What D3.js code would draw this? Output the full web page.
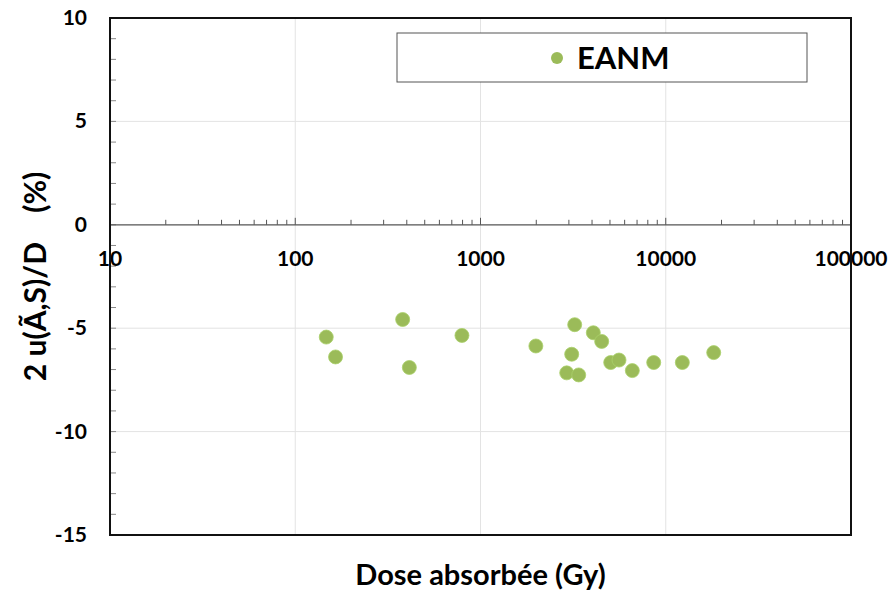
<!DOCTYPE html>
<html>
<head>
<meta charset="utf-8">
<script src="https://cdn.jsdelivr.net/npm/d3@7"></script>
<style>
  body { margin: 0; background: #fff; }
  text { font-family: Lato, "Open Sans", sans-serif; font-weight: bold; }
</style>
</head>
<body>
<svg id="chart"></svg>
<script>
var width = 892, height = 590;
var margin = { left: 110, right: 41, top: 18, bottom: 55 };

// Data
var series_name = "EANM";
var dose = [147, 165, 380, 413, 794, 1990, 3225, 3107, 2920, 3390, 4064, 4510, 5045, 5593, 6600, 8610, 12290, 18150];
var unc = [-5.43, -6.39, -4.58, -6.9, -5.35, -5.86, -4.83, -6.26, -7.16, -7.26, -5.22, -5.64, -6.66, -6.54, -7.05, -6.66, -6.66, -6.18];
var x_ticks = [10, 100, 1000, 10000, 100000];
var y_ticks = [10, 5, 0, -5, -10, -15];

var svg = d3.select("#chart").attr("width", width).attr("height", height);

var x = d3.scaleLog().domain([10, 100000]).range([margin.left, width - margin.right]);
var y = d3.scaleLinear().domain([-15, 10]).range([height - margin.bottom, margin.top]);

// gridlines
svg.append("g").selectAll("line").data(x_ticks.slice(1, -1)).enter().append("line")
  .attr("x1", function(d) { return x(d); }).attr("x2", function(d) { return x(d); })
  .attr("y1", y(10)).attr("y2", y(-15))
  .style("stroke", "#e3e3e3").style("stroke-width", 1);
svg.append("g").selectAll("line").data([5, -5, -10]).enter().append("line")
  .attr("x1", x(10)).attr("x2", x(100000))
  .attr("y1", function(d) { return y(d); }).attr("y2", function(d) { return y(d); })
  .style("stroke", "#e3e3e3").style("stroke-width", 1);

// y minor ticks (inside)
svg.append("g").selectAll("line").data(d3.range(-14, 10)).enter().append("line")
  .attr("x1", x(10)).attr("x2", x(10) + 6)
  .attr("y1", function(d) { return y(d); }).attr("y2", function(d) { return y(d); })
  .style("stroke", "#888").style("stroke-width", 1);

// x axis through y = 0, ticks pointing up
var minor = [];
for (var e = 1; e < 5; e++) for (var m = 2; m <= 9; m++) minor.push(m * Math.pow(10, e));
var x_axis = svg.append("g").attr("transform", "translate(0," + y(0) + ")");
x_axis.append("line").attr("x1", x(10)).attr("x2", x(100000)).attr("y1", 0).attr("y2", 0)
  .style("stroke", "#555").style("stroke-width", 1.2);
x_axis.selectAll(".minor").data(minor).enter().append("line")
  .attr("x1", function(d) { return x(d); }).attr("x2", function(d) { return x(d); })
  .attr("y1", 0).attr("y2", -5).style("stroke", "#555").style("stroke-width", 1);
x_axis.selectAll(".major").data(x_ticks).enter().append("line")
  .attr("x1", function(d) { return x(d); }).attr("x2", function(d) { return x(d); })
  .attr("y1", 0).attr("y2", -7).style("stroke", "#555").style("stroke-width", 1);
x_axis.selectAll("text").data(x_ticks).enter().append("text")
  .attr("x", function(d) { return x(d); }).attr("y", 41)
  .attr("text-anchor", "middle").style("font-size", "21px")
  .text(function(d) { return d; });

// y tick labels
svg.append("g").selectAll("text").data(y_ticks).enter().append("text")
  .attr("x", 87).attr("y", function(d) { return y(d) + 7; })
  .attr("text-anchor", "end").style("font-size", "21px")
  .text(function(d) { return d; });

// frame
svg.append("rect").attr("x", x(10)).attr("y", y(10))
  .attr("width", x(100000) - x(10)).attr("height", y(-15) - y(10))
  .style("fill", "none").style("stroke", "#111").style("stroke-width", 2);

// points
svg.append("g").selectAll("circle").data(dose).enter().append("circle")
  .attr("cx", function(d) { return x(d); })
  .attr("cy", function(d, i) { return y(unc[i]); })
  .attr("r", 7)
  .style("fill", "#9bbb59").style("stroke", "#a9d16a").style("stroke-width", 0.8);

// legend
var legend = svg.append("g");
legend.append("rect").attr("x", 397).attr("y", 33).attr("width", 410).attr("height", 49)
  .style("fill", "#fff").style("stroke", "#555").style("stroke-width", 1);
legend.append("circle").attr("cx", 557).attr("cy", 58).attr("r", 6).style("fill", "#9bbb59");
legend.append("text").attr("x", 577).attr("y", 69).style("font-size", "31px").text(series_name);

// axis titles
svg.append("text").attr("x", (x(10) + x(100000)) / 2).attr("y", 585)
  .attr("text-anchor", "middle").style("font-size", "29px").text("Dose absorbée (Gy)");
svg.append("text")
  .attr("transform", "translate(46," + (y(10) + y(-15)) / 2 + ") rotate(-90)")
  .attr("text-anchor", "middle").style("font-size", "30px")
  .text("2 u(Ã,S)/D\u00a0\u00a0\u00a0\u00a0(%)");
</script>
</body>
</html>
